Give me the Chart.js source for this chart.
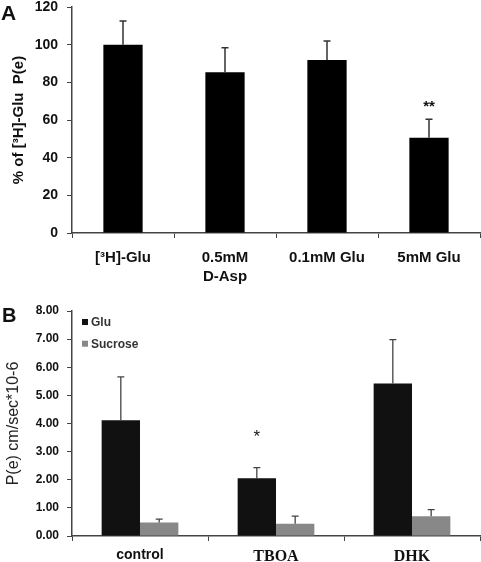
<!DOCTYPE html>
<html>
<head>
<meta charset="utf-8">
<script src="https://cdn.jsdelivr.net/npm/chart.js@4.4.1/dist/chart.umd.min.js"></script>
<style>
  html, body { margin: 0; padding: 0; background: #fff; }
  #wrapA { position: absolute; left: 0; top: 0; }
  #wrapB { position: absolute; left: 0; top: 290px; }
</style>
</head>
<body>
<div id="wrapA"><canvas id="chartA" width="481" height="290"></canvas></div>
<div id="wrapB"><canvas id="chartB" width="481" height="272"></canvas></div>
<script>
// panel A data
const catsA = [['[³H]-Glu'], ['0.5mM', 'D-Asp'], ['0.1mM Glu'], ['5mM Glu']];
const meanA = [100, 85.3, 91.8, 50.6];
const errA = [12.6, 13, 10.2, 9.8];
const starsA = ['', '', '', '**'];

// panel B data
const catsB = ['control', 'TBOA', 'DHK'];
const gluB = [4.12, 2.05, 5.42];
const gluErrB = [1.54, 0.38, 1.56];
const sucB = [0.48, 0.44, 0.70];
const sucErrB = [0.12, 0.27, 0.235];
const starsB = ['', '*', ''];

const SANS = '"Liberation Sans", Arial, sans-serif';
const SERIF = '"Liberation Serif", "Times New Roman", serif';

// error bars (upper half only) + significance stars
const errorBars = {
  id: 'errorBars',
  afterDatasetsDraw(chart, args, opts) {
    const ctx = chart.ctx;
    const y = chart.scales.y;
    ctx.save();
    chart.data.datasets.forEach((ds, i) => {
      const meta = chart.getDatasetMeta(i);
      meta.data.forEach((bar, j) => {
        const top = y.getPixelForValue(ds.data[j] + ds.err[j]);
        ctx.strokeStyle = opts.color;
        ctx.lineWidth = opts.width;
        ctx.beginPath();
        ctx.moveTo(bar.x, bar.y);
        ctx.lineTo(bar.x, top);
        ctx.moveTo(bar.x - 3.5, top);
        ctx.lineTo(bar.x + 3.5, top);
        ctx.stroke();
        if (ds.stars && ds.stars[j]) {
          ctx.fillStyle = '#111';
          ctx.font = opts.starFont;
          ctx.textAlign = 'center';
          ctx.textBaseline = 'middle';
          ctx.fillText(ds.stars[j], bar.x, top - opts.starGap);
        }
      });
    });
    ctx.restore();
  }
};

// panel letter
const panelLetter = {
  id: 'panelLetter',
  afterDraw(chart, args, opts) {
    const ctx = chart.ctx;
    ctx.save();
    ctx.fillStyle = '#111';
    ctx.font = opts.font;
    ctx.textAlign = 'left';
    ctx.textBaseline = 'alphabetic';
    ctx.fillText(opts.text, opts.x, opts.y);
    ctx.restore();
  }
};

// small legend inside the plot
const innerLegend = {
  id: 'innerLegend',
  afterDraw(chart, args, opts) {
    if (!opts.display) return;
    const ctx = chart.ctx;
    const area = chart.chartArea;
    ctx.save();
    chart.data.datasets.forEach((ds, i) => {
      const cy = area.top + 11 + i * 21.7;
      ctx.fillStyle = ds.backgroundColor;
      ctx.fillRect(area.left + 10, cy - 3, 6, 6);
      ctx.fillStyle = '#333';
      ctx.font = 'bold 12px ' + SANS;
      ctx.textAlign = 'left';
      ctx.textBaseline = 'middle';
      ctx.fillText(ds.label, area.left + 19, cy + 1);
    });
    ctx.restore();
  }
};

const axisColor = '#444';

// fixed y-axis box so both panels line up
const fixY = s => { s.width = 72; s.paddingTop = 0; s.paddingBottom = 0; };

const chartA = new Chart(document.getElementById('chartA'), {
  type: 'bar',
  data: {
    labels: catsA,
    datasets: [{
      label: 'A',
      data: meanA,
      err: errA,
      stars: starsA,
      backgroundColor: '#000',
      barPercentage: 0.385,
      categoryPercentage: 1
    }]
  },
  options: {
    responsive: false,
    animation: false,
    layout: { padding: { left: 0, top: 7, right: 1, bottom: 0 }, autoPadding: false },
    plugins: {
      legend: { display: false },
      tooltip: { enabled: false },
      errorBars: { color: '#333', width: 1.5, starFont: 'bold 15px ' + SANS, starGap: 12 },
      panelLetter: { text: 'A', font: 'bold 21px ' + SANS, x: 1, y: 20 },
      innerLegend: { display: false }
    },
    scales: {
      x: {
        grid: { drawOnChartArea: false, drawTicks: true, tickLength: 5, color: axisColor, offset: true },
        border: { color: axisColor, width: 1.5 },
        ticks: { font: { family: SANS, size: 15, weight: 'bold', lineHeight: 1.3 }, color: '#111', padding: 10, maxRotation: 0 },
        afterFit: s => { s.height = 57; }
      },
      y: {
        min: 0,
        max: 120,
        grid: { drawOnChartArea: false, drawTicks: true, tickLength: 5, color: axisColor },
        border: { color: axisColor, width: 1.5 },
        ticks: { stepSize: 20, font: { family: SANS, size: 14, weight: 'bold' }, color: '#111', padding: 9 },
        title: {
          display: true,
          text: '% of [³H]-Glu  P(e)',
          font: { family: SANS, size: 15, weight: 'bold' },
          color: '#111',
          padding: { top: 10, bottom: 0 }
        },
        afterFit: fixY
      }
    }
  },
  plugins: [errorBars, panelLetter, innerLegend]
});

const chartB = new Chart(document.getElementById('chartB'), {
  type: 'bar',
  data: {
    labels: catsB,
    datasets: [{
      label: 'Glu',
      data: gluB,
      err: gluErrB,
      stars: starsB,
      backgroundColor: '#111',
      barPercentage: 1,
      categoryPercentage: 0.564
    }, {
      label: 'Sucrose',
      data: sucB,
      err: sucErrB,
      backgroundColor: '#888',
      barPercentage: 1,
      categoryPercentage: 0.564
    }]
  },
  options: {
    responsive: false,
    animation: false,
    layout: { padding: { left: 0, top: 21, right: 1, bottom: 0 }, autoPadding: false },
    plugins: {
      legend: { display: false },
      tooltip: { enabled: false },
      errorBars: { color: '#444', width: 1.3, starFont: '17px ' + SANS, starGap: 30 },
      panelLetter: { text: 'B', font: 'bold 20px ' + SANS, x: 2, y: 32 },
      innerLegend: { display: true }
    },
    scales: {
      x: {
        grid: { drawOnChartArea: false, drawTicks: true, tickLength: 5, color: axisColor, offset: true },
        border: { color: axisColor, width: 1.5 },
        ticks: {
          font: c => c.index === 0
            ? { family: SANS, size: 14, weight: 'bold' }
            : { family: SERIF, size: 16, weight: 'bold' },
          color: '#111',
          padding: 6,
          maxRotation: 0
        },
        afterFit: s => { s.height = 26; }
      },
      y: {
        min: 0,
        max: 8,
        grid: { drawOnChartArea: false, drawTicks: true, tickLength: 5, color: axisColor },
        border: { color: axisColor, width: 1.5 },
        ticks: {
          stepSize: 1,
          font: { family: SANS, size: 12, weight: 'bold' },
          color: '#111',
          padding: 8,
          callback: v => Number(v).toFixed(2)
        },
        title: {
          display: true,
          text: 'P(e) cm/sec*10-6',
          font: { family: SANS, size: 16 },
          color: '#222',
          padding: { top: 4, bottom: 0 }
        },
        afterFit: fixY
      }
    }
  },
  plugins: [errorBars, panelLetter, innerLegend]
});
</script>
</body>
</html>
